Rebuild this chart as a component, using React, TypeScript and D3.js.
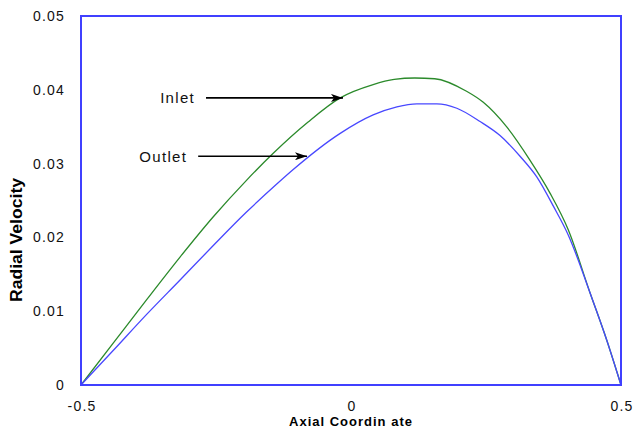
import React from "react";
import * as d3 from "d3";

const inletX = [-0.5, -0.44, -0.378, -0.317, -0.255, -0.194, -0.144, -0.08, -0.02, 0.041, 0.08, 0.118, 0.155, 0.214, 0.245, 0.288, 0.331, 0.3685, 0.4025, 0.4426, 0.4735, 0.5];
const inletY = [0, 0.0057, 0.0116, 0.0173, 0.0228, 0.0277, 0.0314, 0.0356, 0.0389, 0.0407, 0.0414, 0.0416, 0.0415, 0.0398, 0.0383, 0.035, 0.0305, 0.026, 0.021, 0.0125, 0.0061, 0];

const outletX = [-0.5, -0.44, -0.378, -0.317, -0.255, -0.194, -0.138, -0.107, -0.02, 0.041, 0.085, 0.122, 0.159, 0.196, 0.239, 0.276, 0.313, 0.344, 0.375, 0.4025, 0.4426, 0.4735, 0.5];
const outletY = [0, 0.0047, 0.0096, 0.0142, 0.0189, 0.0234, 0.0272, 0.0292, 0.0341, 0.0366, 0.0377, 0.0381, 0.0381, 0.0375, 0.0357, 0.0338, 0.031, 0.0282, 0.0242, 0.0203, 0.0125, 0.0061, 0];

const xTicks = [-0.5, 0, 0.5];
const xTickLabels = ["-0.5", "0", "0.5"];
const yTicks = [0, 0.01, 0.02, 0.03, 0.04, 0.05];
const yTickLabels = ["0", "0.01", "0.02", "0.03", "0.04", "0.05"];

const labels = ["Inlet", "Outlet"];
const arrowStartX = [-0.2685, -0.283];
const arrowEndX = [-0.0148, -0.0815];
const arrowY = [0.0389, 0.031];

const W = 635, H = 433;
const L = 81, R = 621, T = 16, B = 385;

export default function App() {
  const x = d3.scaleLinear().domain([-0.5, 0.5]).range([L, R]);
  const y = d3.scaleLinear().domain([0, 0.05]).range([B, T]);
  const line = d3
    .line<[number, number]>()
    .x((d) => x(d[0]))
    .y((d) => y(d[1]))
    .curve(d3.curveMonotoneX);
  const inlet = inletX.map((v, i) => [v, inletY[i]] as [number, number]);
  const outlet = outletX.map((v, i) => [v, outletY[i]] as [number, number]);
  const font = "'Liberation Sans', Arial, sans-serif";
  return (
    <svg
      width={W}
      height={H}
      style={{ position: "absolute", left: 0, top: 0, display: "block", background: "#fff" }}
    >
      <defs>
        <marker id="ah" viewBox="0 0 12 8" refX="12" refY="4" markerWidth="12" markerHeight="8" markerUnits="userSpaceOnUse" orient="auto">
          <path d="M0,0 L12,4 L0,8 L3,4 Z" fill="#000" />
        </marker>
      </defs>
      <rect x={0} y={0} width={W} height={H} fill="#fff" />
      {yTicks.map((t, i) => (
        <text key={"y" + i} x={65} y={y(t)} dy="0.36em" textAnchor="end" fontFamily={font} fontSize={14} letterSpacing={1.2} fill="#111">
          {yTickLabels[i]}
        </text>
      ))}
      {xTicks.map((t, i) => (
        <text key={"x" + i} x={x(t) + 1} y={411} textAnchor="middle" fontFamily={font} fontSize={14} letterSpacing={1.2} fill="#111">
          {xTickLabels[i]}
        </text>
      ))}
      <path d={line(inlet) || ""} fill="none" stroke="#2b8a2b" strokeWidth={1.3} />
      <path d={line(outlet) || ""} fill="none" stroke="#4848ff" strokeWidth={1.3} />
      <rect x={L} y={T} width={R - L} height={B - T} fill="none" stroke="#4040ff" strokeWidth={2} />
      {labels.map((lb, i) => (
        <g key={lb}>
          <line x1={x(arrowStartX[i])} x2={x(arrowEndX[i])} y1={y(arrowY[i])} y2={y(arrowY[i])} stroke="#000" strokeWidth={1.6} markerEnd="url(#ah)" />
          <text x={x(arrowStartX[i]) - 11} y={y(arrowY[i])} dy="0.36em" textAnchor="end" fontFamily={font} fontSize={15} letterSpacing={1.3} fill="#111">
            {lb}
          </text>
        </g>
      ))}
      <rect x={0} y={178} width={31} height={124} fill="#fff" />
      <text
        transform="translate(22,240) rotate(-90)"
        textAnchor="middle"
        fontFamily={font}
        fontWeight="bold"
        fontSize={17}
        textLength={124}
        lengthAdjust="spacingAndGlyphs"
        fill="#000"
      >
        Radial Velocity
      </text>
      <text x={351} y={426} textAnchor="middle" fontFamily={font} fontWeight="bold" fontSize={13} letterSpacing={1} fill="#000">
        Axial Coordin ate
      </text>
    </svg>
  );
}
